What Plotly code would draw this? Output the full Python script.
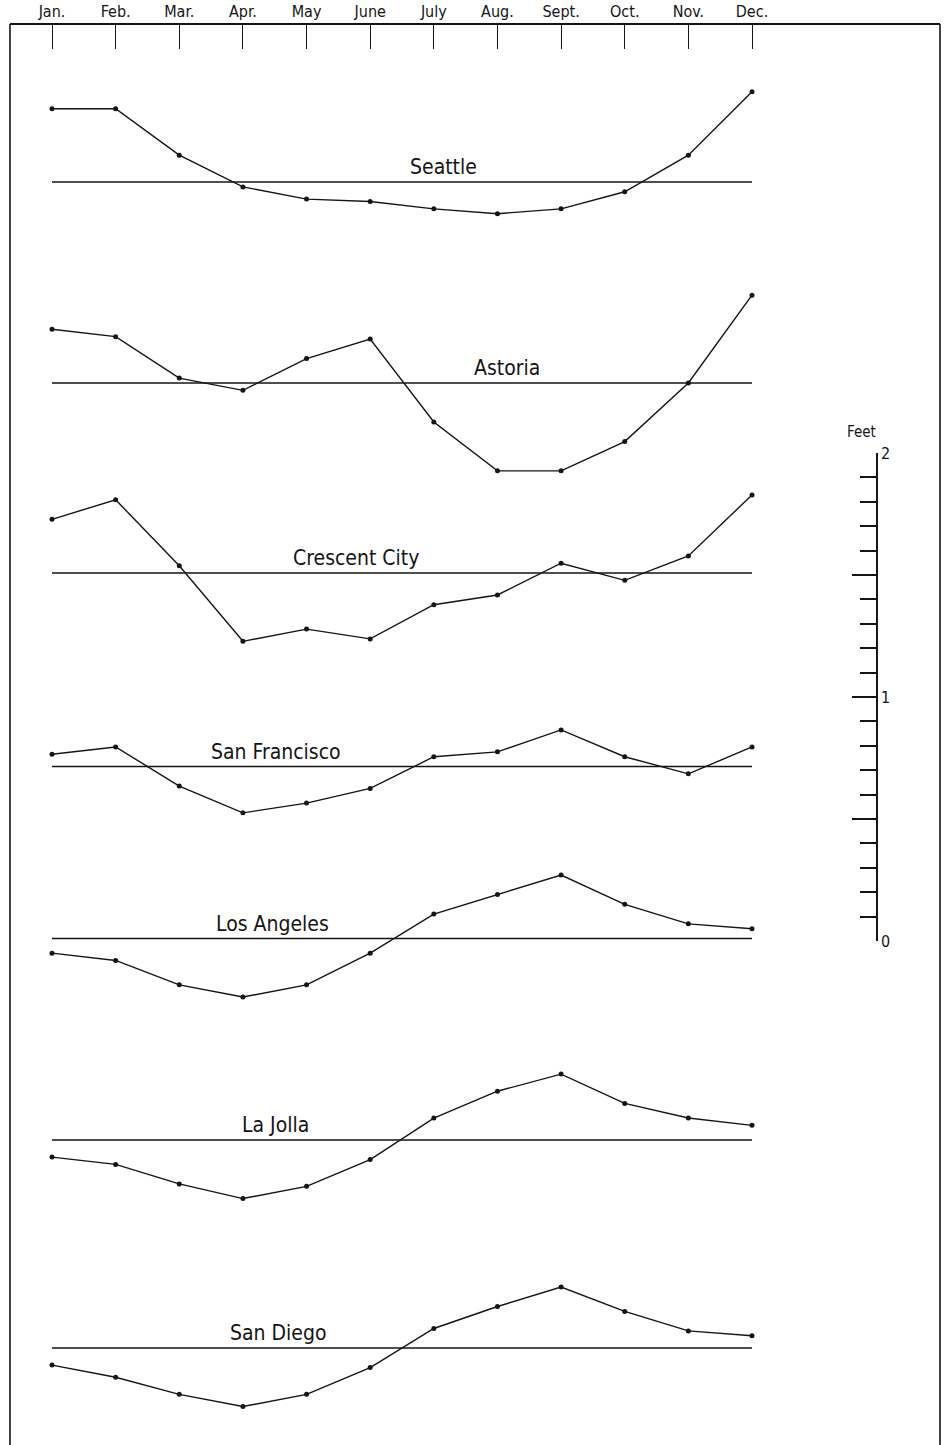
import plotly.graph_objects as go

months = ["Jan.", "Feb.", "Mar.", "Apr.", "May", "June", "July", "Aug.", "Sept.", "Oct.", "Nov.", "Dec."]
stations = ["Seattle", "Astoria", "Crescent City", "San Francisco", "Los Angeles", "La Jolla", "San Diego"]

# monthly departure of sea level from the yearly mean, feet
seattle = [0.30, 0.30, 0.11, -0.02, -0.07, -0.08, -0.11, -0.13, -0.11, -0.04, 0.11, 0.37]
astoria = [0.22, 0.19, 0.02, -0.03, 0.10, 0.18, -0.16, -0.36, -0.36, -0.24, 0.00, 0.36]
crescent_city = [0.22, 0.30, 0.03, -0.28, -0.23, -0.27, -0.13, -0.09, 0.04, -0.03, 0.07, 0.32]
san_francisco = [0.05, 0.08, -0.08, -0.19, -0.15, -0.09, 0.04, 0.06, 0.15, 0.04, -0.03, 0.08]
los_angeles = [-0.06, -0.09, -0.19, -0.24, -0.19, -0.06, 0.10, 0.18, 0.26, 0.14, 0.06, 0.04]
la_jolla = [-0.07, -0.10, -0.18, -0.24, -0.19, -0.08, 0.09, 0.20, 0.27, 0.15, 0.09, 0.06]
san_diego = [-0.07, -0.12, -0.19, -0.24, -0.19, -0.08, 0.08, 0.17, 0.25, 0.15, 0.07, 0.05]
series = [seattle, astoria, crescent_city, san_francisco, los_angeles, la_jolla, san_diego]

scale_ticks = [0, 0.5, 1, 1.5, 2]
scale_labels = ["0", "", "1", "", "2"]

W, H = 945, 1445
ink = "#151515"
font = "DejaVu Sans Condensed, sans-serif"
ppf = 244  # pixels per foot, same for every station
base_px = [182, 383, 573, 766.5, 938.5, 1140, 1348]  # where each zero line sits on the page
label_px = [443, 507, 356, 276, 272, 275, 278]

fig = go.Figure()
layout_axes = {}
for i, (name, vals) in enumerate(zip(stations, series)):
    yname = "y" if i == 0 else "y%d" % (i + 1)
    # zero line
    fig.add_trace(go.Scatter(x=months, y=[0] * 12, mode="lines", yaxis=yname,
                             line=dict(color=ink, width=1.4), hoverinfo="skip", showlegend=False))
    fig.add_trace(go.Scatter(x=months, y=vals, mode="lines+markers", yaxis=yname, name=name,
                             line=dict(color=ink, width=1.4), marker=dict(color=ink, size=5),
                             showlegend=False))
    b = base_px[i]
    ax = dict(range=[(b - H) / ppf, b / ppf], visible=False, fixedrange=True, automargin=False)
    if i > 0:
        ax["overlaying"] = "y"
    layout_axes["yaxis" if i == 0 else "yaxis%d" % (i + 1)] = ax
    fig.add_annotation(text=name, x=label_px[i] / W, xref="paper", xanchor="center",
                       y=0, yref=yname, yanchor="bottom", yshift=1, showarrow=False,
                       font=dict(family=font, size=21, color=ink))

# feet scale on the right
fig.add_trace(go.Scatter(x=[months[0]], y=[0], yaxis="y8", mode="markers",
                         marker=dict(opacity=0), hoverinfo="skip", showlegend=False))
layout_axes["yaxis8"] = dict(
    domain=[(H - 941) / H, (H - 453) / H], range=[0, 2], anchor="free", position=877 / W,
    side="right", showline=True, linecolor=ink, linewidth=1.6, showgrid=False, zeroline=False,
    ticks="inside", ticklen=24, tickwidth=1.6, tickcolor=ink,
    tickvals=scale_ticks, ticktext=scale_labels, tickfont=dict(family=font, size=16, color=ink),
    minor=dict(ticks="inside", dtick=0.1, tick0=0, ticklen=16, tickwidth=1.6, tickcolor=ink),
    fixedrange=True, automargin=False)
fig.add_annotation(text="Feet", x=861 / W, xref="paper", xanchor="center",
                   y=(H - 432) / H, yref="paper", yanchor="middle", showarrow=False,
                   font=dict(family=font, size=15, color=ink))

# frame sides
for xp in [10, 940]:
    fig.add_shape(type="line", xref="paper", yref="paper", x0=xp / W, x1=xp / W,
                  y0=-0.01, y1=(H - 24) / H, line=dict(color=ink, width=1.6))

spacing = (752 - 52) / 11
r0 = -(52 - 10) / spacing
fig.update_layout(
    width=W, height=H, margin=dict(l=0, r=0, t=0, b=0, pad=0),
    plot_bgcolor="rgba(0,0,0,0)", paper_bgcolor="white",
    xaxis=dict(type="category", categoryorder="array", categoryarray=months,
               domain=[10 / W, 940 / W], range=[r0, r0 + 930 / spacing],
               side="top", anchor="free", position=(H - 24) / H,
               showline=True, linecolor=ink, linewidth=1.6, showgrid=False,
               ticks="inside", ticklen=24, tickwidth=1.4, tickcolor=ink,
               tickfont=dict(family=font, size=16, color=ink), fixedrange=True,
               automargin=False),
    **layout_axes,
)

# pin the plot to the page corner so nothing shifts it
pin = ("document.body.style.margin='0';"
       "var d=document.getElementById('{plot_id}');"
       "d.style.position='absolute';d.style.top='0';d.style.left='0';")
fig.write_html("out.html", config={"displayModeBar": False}, post_script=pin)
